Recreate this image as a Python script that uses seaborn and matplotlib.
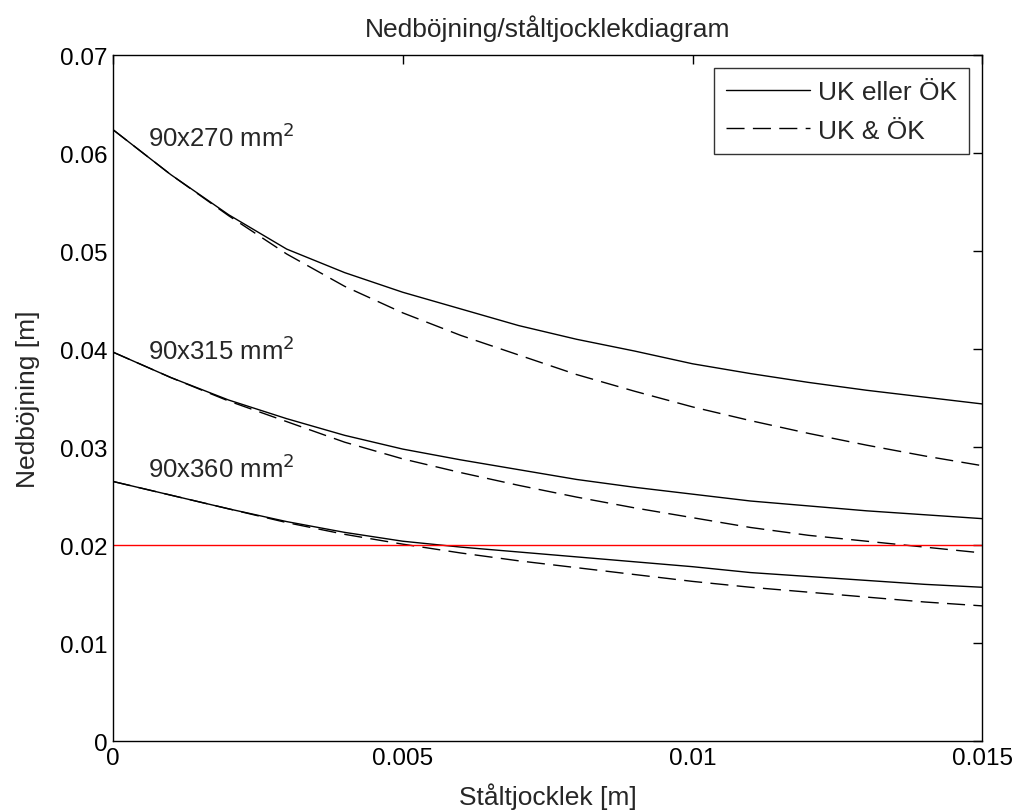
import matplotlib
matplotlib.use("Agg")
import matplotlib.pyplot as plt
from matplotlib.lines import Line2D
import seaborn as sns
import numpy as np
import pandas as pd

# Ståltjocklek [m]
thickness = [0.000, 0.001, 0.002, 0.003, 0.004, 0.005, 0.006, 0.007,
             0.008, 0.009, 0.010, 0.011, 0.012, 0.013, 0.014, 0.015]

# Nedböjning [m] per profil, UK eller ÖK (heldragen)
single_270 = [0.0624, 0.0578, 0.0537, 0.0502, 0.0478, 0.0458, 0.0441, 0.0424,
              0.0410, 0.0398, 0.0385, 0.0375, 0.0366, 0.0358, 0.0351, 0.0344]
single_315 = [0.0397, 0.0371, 0.0348, 0.0329, 0.0312, 0.0298, 0.0287, 0.0277,
              0.0267, 0.0259, 0.0252, 0.0245, 0.0240, 0.0235, 0.0231, 0.0227]
single_360 = [0.0265, 0.0251, 0.0237, 0.0224, 0.0213, 0.0204, 0.0198, 0.0193,
              0.0188, 0.0183, 0.0178, 0.0172, 0.0168, 0.0164, 0.0160, 0.0157]

# UK & ÖK (streckad)
double_270 = [0.0624, 0.0578, 0.0536, 0.0497, 0.0464, 0.0437, 0.0414, 0.0394,
              0.0374, 0.0357, 0.0341, 0.0327, 0.0314, 0.0302, 0.0291, 0.0281]
double_315 = [0.0397, 0.0371, 0.0347, 0.0326, 0.0305, 0.0288, 0.0274, 0.0261,
              0.0249, 0.0238, 0.0228, 0.0218, 0.0210, 0.0204, 0.0198, 0.0192]
double_360 = [0.0265, 0.0251, 0.0237, 0.0223, 0.0211, 0.0201, 0.0192, 0.0184,
              0.0177, 0.0170, 0.0163, 0.0157, 0.0152, 0.0147, 0.0142, 0.0138]

profiles = ["90x270", "90x315", "90x360"]
label_y = [0.0617, 0.0399, 0.0279]
limit = 0.02

case_single = "UK eller ÖK"
case_double = "UK & ÖK"

frames = []
for name, s, d in zip(profiles, [single_270, single_315, single_360],
                      [double_270, double_315, double_360]):
    frames.append(pd.DataFrame({"t": thickness, "w": s, "case": case_single, "profile": name}))
    frames.append(pd.DataFrame({"t": thickness, "w": d, "case": case_double, "profile": name}))
df = pd.concat(frames, ignore_index=True)

sns.set_style("white")
plt.rcParams["font.family"] = ["Liberation Sans", "DejaVu Sans"]

fig = plt.figure(figsize=(10.16, 8.12), dpi=100)
ax = fig.add_axes([0.111, 0.086, 0.856, 0.845])

dash_map = {case_single: "", case_double: (13, 6)}
sns.lineplot(data=df, x="t", y="w", style="case", units="profile",
             estimator=None, color="black", linewidth=1.0,
             dashes=dash_map, legend=False, ax=ax)
ax.axhline(limit, color="red", linewidth=1.0)

for name, y in zip(profiles, label_y):
    ax.text(0.0006, y, name + r" mm$^2$", fontsize=18.5, va="center", ha="left")

ax.set_xlim(0, 0.015)
ax.set_ylim(0, 0.07)
ax.set_xticks([0, 0.005, 0.01, 0.015])
ax.set_xticklabels(["0", "0.005", "0.01", "0.015"])
ax.set_yticks(np.arange(0, 0.0701, 0.01))
ax.set_yticklabels(["0", "0.01", "0.02", "0.03", "0.04", "0.05", "0.06", "0.07"])
ax.tick_params(direction="in", length=6.5, width=1, top=True, right=True,
               labelsize=17.5, colors="black", pad=4)
for sp in ax.spines.values():
    sp.set_color("black")
    sp.set_linewidth(1.0)

ax.set_xlabel("Ståltjocklek [m]", fontsize=19, labelpad=10)
ax.set_ylabel("Nedböjning [m]", fontsize=19, labelpad=14)
ax.set_title("Nedböjning/ståltjocklekdiagram", fontsize=19, pad=14)

handles = [Line2D([], [], color="black", linewidth=1.0),
           Line2D([], [], color="black", linewidth=1.0, dashes=(13, 6))]
leg = ax.legend(handles, [case_single, case_double], loc="upper right",
                fontsize=19, frameon=True, fancybox=False, handlelength=3.2,
                handletextpad=0.3, borderpad=0.45, labelspacing=0.55,
                borderaxespad=0.5)
leg.get_frame().set_edgecolor("black")
leg.get_frame().set_linewidth(1.0)

fig.savefig("out.png", dpi=100)
